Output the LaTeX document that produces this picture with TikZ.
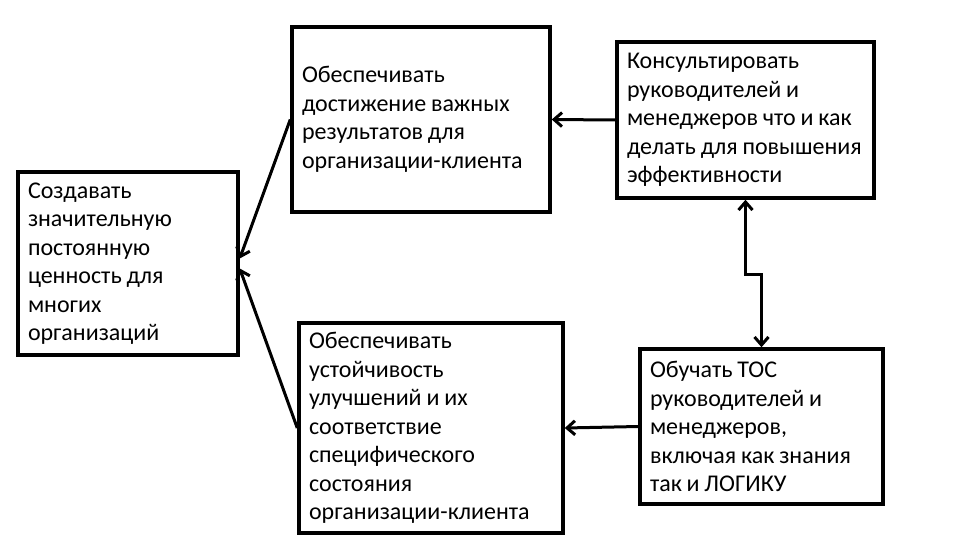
\documentclass[tikz,border=0pt]{standalone}
\usepackage{fontspec}
\setmainfont{Carlito}
\hyphenpenalty=10000
\exhyphenpenalty=10000
\newcommand\tightspace{\spaceskip=0.2em\relax}
\usetikzlibrary{arrows.meta}
\tikzset{>={Straight Barb[length=8pt,width=14pt]},
  box/.style={draw=black,line width=3.5pt,align=left,inner xsep=10pt,inner ysep=4pt,
    font=\fontsize{24}{28.5}\selectfont,execute at begin node=\tightspace},
  flow/.style={->,line width=3pt}}
\begin{document}
\begin{tikzpicture}[x=1pt,y=-1pt]
  \useasboundingbox (0,0) rectangle (960,554);
  \node[box,text width=200pt,minimum height=183pt] (create) at (128,263.5)
    {Создавать\\значительную\\постоянную\\ценность~для\\многих\\организаций};
  \node[box,text width=238pt,minimum height=185pt] (results) at (421,119.5)
    {Обеспечивать\\достижение~важных\\результатов~для\\организации-клиента};
  \node[box,text width=237pt,minimum height=156pt] (consult) at (745.5,120)
    {Консультировать\\руководителей~и\\менеджеров~что~и~как\\делать~для~повышения\\эффективности};
  \node[box,text width=244pt,minimum height=210pt] (sustain) at (431,428)
    {Обеспечивать\\устойчивость\\улучшений~и~их\\соответствие\\специфического\\состояния\\организации-клиента};
  \node[box,text width=223pt,minimum height=155pt] (teach) at (761.5,426.5)
    {Обучать~TOC\\руководителей~и\\менеджеров,\\включая~как~знания\\так~и~ЛОГИКУ};
  \coordinate[yshift=5pt] (in1) at (create.east);
  \coordinate[yshift=-5pt] (in2) at (create.east);
  \draw[flow] (consult.west)--(results.east);
  \draw[flow] (teach.west)--(sustain.east);
  \draw[flow] (results.west)--(in1);
  \draw[flow] (sustain.west)--(in2);
  \draw[flow,<->] (consult.south)--++(0,75)-|(teach.north);
\end{tikzpicture}
\end{document}
